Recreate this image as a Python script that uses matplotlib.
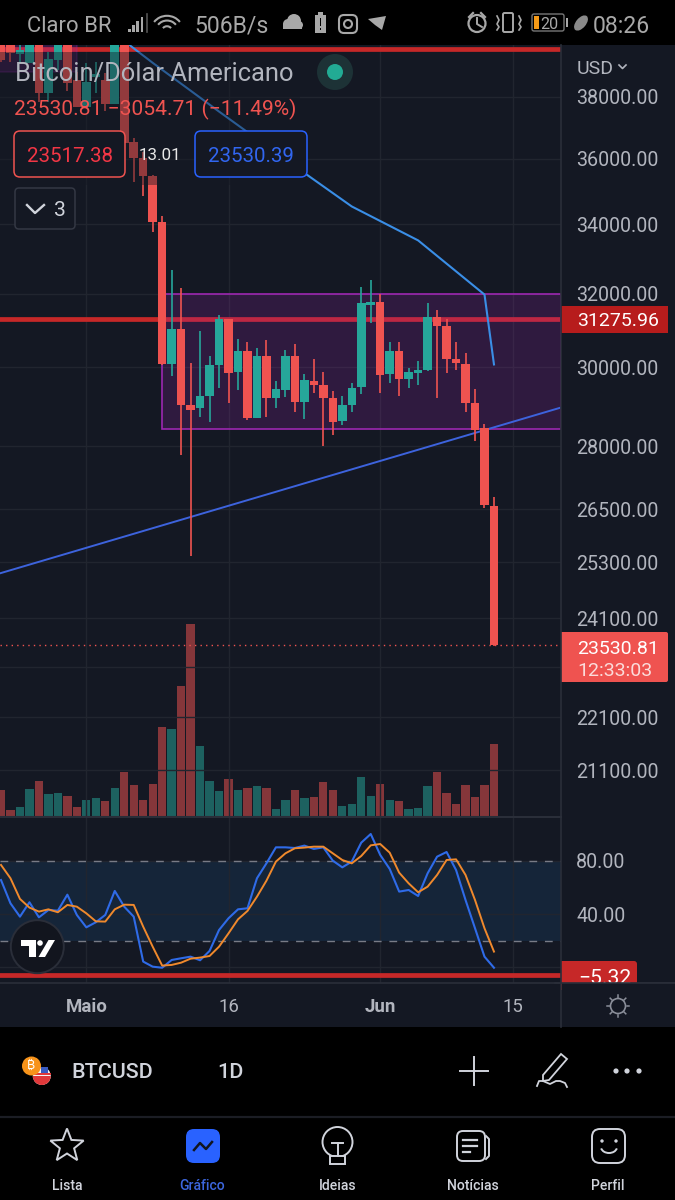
"""
plot.py - BTCUSD daily chart, phone screenshot of a trading app.
Price pane is on a log scale, with volume and stoch RSI below it.
"""
import numpy as np
import matplotlib
matplotlib.use("Agg")
import matplotlib.pyplot as plt
from matplotlib.patches import Rectangle, FancyBboxPatch, Circle, Ellipse, Arc, Polygon, Wedge
from matplotlib.ticker import FuncFormatter, NullLocator, NullFormatter

# --------------------- DATA ---------------------
# daily candles, first one is 22 April, last one is 13 June
opens = [39940, 39800, 39450, 39140, 39940, 38132, 39243, 39940, 38565, 37680,
         38666, 38565, 37770, 39940, 36546, 36040, 35478, 34052, 30078, 31035,
         29023, 28946, 29249, 30052, 31300, 29870, 30447, 28695, 30288, 29198,
         29405, 30288, 29097, 29636, 29533, 29198, 28620, 29023, 29482, 31694,
         31777, 29818, 30447, 29688, 29844, 29921, 31362, 31117, 30209, 30078,
         29072, 28446, 26574]
closes = [39243, 39490, 39591, 39870, 38132, 39278, 39940, 38465, 37680, 38498,
          38766, 37770, 39940, 36515, 36040, 35478, 34052, 30078, 31035, 29023,
          28896, 29249, 30052, 31307, 29844, 30447, 28695, 30288, 29198, 29430,
          30288, 29097, 29662, 29533, 29198, 28595, 29023, 29456, 31749, 31777,
          29792, 30447, 29688, 29870, 29921, 31362, 31117, 30209, 30104, 29072,
          28396, 26597, 23530.81]
highs = [40120, 39940, 39940, 40100, 40100, 39522, 40100, 40100, 38838, 39137,
         39170, 38800, 40100, 40100, 36674, 36228, 35509, 34232, 32680, 32170,
         30104, 30981, 30288, 31417, 31307, 30766, 30686, 30526, 30739, 29636,
         30473, 30632, 29818, 30209, 29870, 29379, 29249, 29585, 32198, 32393,
         31998, 30686, 30686, 29973, 30157, 31749, 31555, 31307, 30686, 30368,
         29430, 28545, 26780]
lows = [39170, 39170, 39140, 39140, 37834, 37834, 38900, 38199, 37680, 37680,
        38132, 37550, 37770, 36483, 35292, 34834, 33757, 30052, 29766, 27783,
        25440, 28720, 28595, 29456, 29072, 29405, 28645, 28695, 28720, 28946,
        29224, 28846, 28670, 29328, 28002, 28272, 28520, 28846, 29303, 31198,
        29328, 29585, 29249, 29456, 29533, 29895, 29198, 29844, 29921, 28846,
        28125, 26528, 23517.38]
# volume, arbitrary units, colour follows the candle colours of the volume study
volume = [25.7, 5.7, 9, 27, 34.7, 21.7, 22.7, 19.7, 9.3, 15.7,
          18, 14.7, 28, 44, 31.3, 15.7, 32, 89.3, 86.7, 130,
          192.3, 70.3, 34.7, 25.3, 37.3, 26, 27.7, 30, 28.3, 6.7,
          16.3, 26, 18.3, 19.3, 33.7, 25.7, 9.7, 11.7, 38.7, 19.7,
          31.7, 15.7, 14.7, 6.7, 7.7, 30, 44, 23.3, 12.3, 30.7,
          19.3, 31.3, 72.3]
volume_up = [0, 0, 1, 1, 0, 1, 1, 0, 0, 1, 1, 0, 1, 0, 0, 0, 0, 0, 1, 0,
             0, 1, 1, 1, 0, 1, 0, 1, 0, 1, 1, 0, 1, 0, 0, 0, 1, 1, 1, 1,
             0, 1, 0, 1, 1, 1, 0, 0, 0, 0, 0, 0, 0]
# stochastic RSI
stoch_k = [65.5, 48, 38, 48.8, 37.5, 43, 42.5, 54.5, 39.3, 30,
           33.8, 39.3, 57.3, 45.5, 38, 4.3, 0.5, -0.3, 5.5, 6.8,
           8, 5.3, 12.3, 28, 36.8, 43.5, 44.3, 66.8, 78, 90,
           90, 89.5, 91.3, 88.8, 90, 80, 75, 79.3, 93.5, 100,
           84.3, 73.8, 56.8, 58, 53.5, 70.5, 83, 86.5, 73, 50.5,
           29.3, 8, -0.3]
stoch_d = [76.8, 66.8, 51.3, 44.8, 41.8, 43.5, 41.3, 46.8, 45.5, 40.5,
           34.5, 34.3, 43.5, 47, 46.8, 30.5, 15.5, 1.3, 1.8, 3.5,
           6.5, 7.3, 8.5, 15.5, 25.5, 36, 42.3, 53, 65, 79.3,
           85.5, 89.3, 89.8, 90.5, 90.5, 85.5, 80.5, 78, 83.5, 91.5,
           92.5, 86, 71, 63, 56.3, 60.5, 69.3, 80.5, 81, 69.3,
           50.5, 29.3, 11.8]
# weekly moving average (sampled once a week) and the drawn trend line
ma_days = [9, 16, 23, 30, 37, 44, 51, 52]
ma_values = [40925, 39150, 37517, 35977, 34531, 33522, 31972, 30078]
trend_prices = [25060, 28967]
# drawn levels and rectangles
level_main = 31305
level_top = 39640
level_last = 23530.81
level_stoch = -5.7
box_low, box_high, box_start = 28440, 31990, 17
old_box_low, old_box_end = 38838, 8
# axis ticks (the ones under the tags have a grid line but no visible label)
price_ticks = [38000, 36000, 34000, 32000, 30000, 28000, 26500, 25300, 24100, 23100, 22100, 21100]
stoch_ticks = [80, 40, 0]
hidden_ticks = [23100, 0]
date_ticks = [9, 24, 40, 54]
date_labels = ["Maio", "16", "Jun", "15"]

# --------------------- COLOURS ---------------------
BG = "#141823"
GRID = "#21252f"
BORDER = "#2a2e39"
RED = "#ef5350"
TEAL = "#26a69a"
DARK_RED = "#c62828"
LABEL = "#b2b5be"
PURPLE = "#9c27b0"
BLUE = "#2962ff"
UI_GREY = "#d1d4dc"
STATUS = "#a8a8a8"

W, H = 675, 1200
plt.rcParams["font.family"] = ["Roboto", "DejaVu Sans"]


def px_rect(x0, y0, x1, y1):
    """Axes rectangle from screen pixels (y going down)."""
    return [x0 / W, 1 - y1 / H, (x1 - x0) / W, (y1 - y0) / H]


def round_box(ax, x0, y0, x1, y1, r, fc, ec="none", lw=1.2, zorder=5):
    ax.add_patch(FancyBboxPatch((x0 + r, y0 + r), x1 - x0 - 2 * r, y1 - y0 - 2 * r,
                                boxstyle=f"round,pad={r},rounding_size={r}",
                                fc=fc, ec=ec, lw=lw, zorder=zorder))


def scale_label(value, pos):
    if value in hidden_ticks:
        return ""
    return f"{value:.2f}"


fig = plt.figure(figsize=(W / 100, H / 100), dpi=100, facecolor=BG)
days = np.arange(len(closes))
xlim = (-0.105, 59.07)

# --------------------- volume pane (same area as the price pane) ---------------------
ax_vol = fig.add_axes(px_rect(0, 45, 561, 816), facecolor=BG, zorder=1)
vol_colors = [TEAL if up else RED for up in volume_up]
ax_vol.bar(days, volume, width=0.88, color=vol_colors, alpha=0.52, linewidth=0)
ax_vol.set_xlim(*xlim)
ax_vol.set_ylim(0, 771)
ax_vol.axis("off")

# --------------------- price pane ---------------------
ax = fig.add_axes(px_rect(0, 45, 561, 816), zorder=2)
ax.patch.set_alpha(0)
ax.set_yscale("log")
ax.set_xlim(*xlim)
ax.set_ylim(20271, 39764)
ax.set_yticks(price_ticks)
ax.yaxis.set_major_formatter(FuncFormatter(scale_label))
ax.yaxis.set_minor_locator(NullLocator())
ax.yaxis.set_minor_formatter(NullFormatter())
ax.yaxis.tick_right()
ax.tick_params(axis="y", length=0, pad=11, labelsize=14.1, labelcolor=LABEL)
ax.set_xticks(date_ticks)
ax.tick_params(axis="x", length=0, labelbottom=False)
ax.grid(True, color=GRID, lw=1.0, zorder=0)
ax.set_axisbelow(True)
for s in ax.spines.values():
    s.set_visible(False)

ax.axhline(level_main, color=DARK_RED, lw=3.4, zorder=1)
ax.axhline(level_top, color=DARK_RED, lw=3.4, zorder=1)
ax.add_patch(Rectangle((box_start, box_low), xlim[1] - box_start, box_high - box_low,
                       fc=PURPLE, ec="none", alpha=0.2, zorder=1.5))
ax.add_patch(Rectangle((box_start, box_low), xlim[1] - box_start, box_high - box_low,
                       fc="none", ec=PURPLE, lw=1.2, zorder=1.6))
ax.add_patch(Rectangle((-2, old_box_low), 2 + old_box_end, 50000 - old_box_low,
                       fc=PURPLE, alpha=0.25, ec=PURPLE, lw=1.2, zorder=1.5))
ax.plot(ma_days, ma_values, color="#3a8ee6", lw=1.5, zorder=2)
ax.plot(xlim, trend_prices, color="#3d63dd", lw=1.4, zorder=2)
ax.axhline(level_last, color=RED, lw=1.0, ls=(0, (1, 3)), zorder=2)

# candles
opens_a, closes_a = np.array(opens, float), np.array(closes, float)
candle_colors = [TEAL if c >= o else RED for o, c in zip(opens_a, closes_a)]
ax.vlines(days, lows, highs, colors=candle_colors, lw=1.2, zorder=3)
ax.bar(days, np.abs(closes_a - opens_a), bottom=np.minimum(opens_a, closes_a), width=0.9,
       color=candle_colors, linewidth=0, zorder=3.5)

# --------------------- stoch RSI pane ---------------------
ax_st = fig.add_axes(px_rect(0, 818, 561, 983), facecolor=BG, zorder=2)
ax_st.set_xlim(*xlim)
ax_st.set_ylim(-11.75, 112)
ax_st.axhspan(20, 80, color="#2196f3", alpha=0.11, lw=0, zorder=0.5)
ax_st.set_yticks(stoch_ticks)
ax_st.yaxis.set_major_formatter(FuncFormatter(scale_label))
ax_st.yaxis.tick_right()
ax_st.tick_params(axis="y", length=0, pad=11, labelsize=14.1, labelcolor=LABEL)
ax_st.set_xticks(date_ticks)
ax_st.set_xticklabels(date_labels)
ax_st.tick_params(axis="x", length=0, pad=10.5, labelsize=13.4, labelcolor=LABEL)
for lab, name in zip(ax_st.get_xticklabels(), date_labels):
    if name in ("Maio", "Jun"):
        lab.set_fontweight("bold")
ax_st.grid(True, color=GRID, lw=1.0, zorder=0)
ax_st.set_axisbelow(True)
for s in ax_st.spines.values():
    s.set_visible(False)
for lv in (80, 20):
    ax_st.axhline(lv, color="#787b86", lw=1.0, ls=(0, (5.6, 5.6)), zorder=1)
ax_st.axhline(level_stoch, color=DARK_RED, lw=3.4, zorder=1.5)
ax_st.plot(days, stoch_k, color="#2f6be8", lw=1.5, zorder=2)
ax_st.plot(days, stoch_d, color="#f0892c", lw=1.4, zorder=2.5)

# --------------------- screen overlay: status bar, legend, tags, bottom nav ---------------------
ui = fig.add_axes([0, 0, 1, 1], zorder=10)
ui.patch.set_alpha(0)
ui.set_xlim(0, W)
ui.set_ylim(H, 0)
ui.axis("off")

# legend area dims the candles behind it
ui.add_patch(Rectangle((0, 52), 300, 133, fc=BG, alpha=0.42, lw=0, zorder=1))

# black bands
ui.add_patch(Rectangle((0, 0), W, 45, fc="black", lw=0, zorder=2))
ui.add_patch(Rectangle((0, 1027), W, 173, fc="black", lw=0, zorder=2))
# pane borders
ui.plot([561, 561], [45, 1027], color=BORDER, lw=1.2, zorder=6)
ui.plot([0, 561], [817, 817], color=BORDER, lw=1.5, zorder=3)
ui.plot([0, W], [983, 983], color=BORDER, lw=1.2, zorder=3)
ui.plot([0, W], [1116.5, 1116.5], color="#1b1d24", lw=1.6, zorder=3)


def ui_text(x, y, s, size_px, color, ha="left", weight="normal", zorder=8):
    ui.text(x, y, s, fontsize=size_px * 0.72, color=color, ha=ha, va="center_baseline",
            fontweight=weight, zorder=zorder)


# status bar, left
ui_text(27, 24, "Claro BR", 22, STATUS)
for i, h in enumerate([3, 7, 11, 15]):
    ui.add_patch(Rectangle((128 + i * 4.2, 32 - h), 2.8, h, fc=STATUS, lw=0, zorder=5))
ui.plot([147, 147], [14, 32], color="#555555", lw=1.2, zorder=5)
for r in (5, 11, 16):
    ui.add_patch(Arc((167, 31), 2 * r, 2 * r * 0.95, theta1=215, theta2=325, ec=STATUS, lw=1.5, zorder=5))
ui_text(194, 24, "506B/s", 23, STATUS)
# cloud
for cx, cy, r in [(288, 24, 5), (294, 21, 7), (299, 25, 4)]:
    ui.add_patch(Circle((cx, cy), r, fc=STATUS, lw=0, zorder=5))
ui.add_patch(Rectangle((283, 24), 19, 4.5, fc=STATUS, lw=0, zorder=5))
# battery alert
ui.add_patch(Rectangle((315, 15), 11, 18, fc=STATUS, lw=0, zorder=5))
ui.add_patch(Rectangle((318, 12), 5, 3, fc=STATUS, lw=0, zorder=5))
ui.add_patch(Rectangle((319.6, 18), 1.8, 8, fc="black", lw=0, zorder=6))
ui.add_patch(Rectangle((319.6, 28), 1.8, 2, fc="black", lw=0, zorder=6))
# instagram
round_box(ui, 339, 15, 357, 33, 5, "none", STATUS, 1.5)
ui.add_patch(Circle((348, 24), 4, fc="none", ec=STATUS, lw=1.5, zorder=5))
# small app icon
ui.add_patch(Polygon([(368, 19), (386, 16), (382, 30), (375, 25)], fc=STATUS, lw=0, zorder=5))

# status bar, right
ui.add_patch(Circle((477, 23.5), 8.5, fc="none", ec=STATUS, lw=1.6, zorder=5))
ui.plot([477, 477, 482], [18, 24, 27], color=STATUS, lw=1.4, zorder=5)
ui.plot([469, 473], [17, 13], color=STATUS, lw=1.6, zorder=5)
ui.plot([485, 481], [17, 13], color=STATUS, lw=1.6, zorder=5)
round_box(ui, 503, 13, 513, 32, 1.5, "none", STATUS, 1.4)
for vx in (497, 519):
    ui.plot([vx, vx + 2, vx, vx + 2, vx], [16, 20, 24, 27, 30], color=STATUS, lw=1.2, zorder=5)
round_box(ui, 532, 14, 564, 31, 2, "none", "#777777", 1.0)
ui.add_patch(Rectangle((534, 16), 5, 13, fc="#f59a17", lw=0, zorder=6))
ui_text(540, 23, "20", 16, STATUS)
ui.add_patch(Rectangle((566, 18), 1.8, 9, fc=STATUS, lw=0, zorder=5))
ui.add_patch(Ellipse((581, 23), 10, 18, angle=40, fc="#8a8a8a", lw=0, zorder=5))
ui_text(593, 24, "08:26", 23, STATUS)

# legend
ui_text(15, 72, "Bitcoin/Dólar Americano", 25.5, LABEL)
ui.add_patch(Circle((335, 72), 18, fc="#1d3236", lw=0, zorder=5))
ui.add_patch(Circle((335, 72), 8, fc="#22ab94", lw=0, zorder=6))
ui_text(14, 107, "23530.81 −3054.71 (−11.49%)", 21, RED)
round_box(ui, 14, 131, 125, 177, 6, BG, RED, 1.1)
ui_text(69.5, 154, "23517.38", 20.5, "#f23645", ha="center")
ui_text(139, 154, "13.01", 17, "#e8e8e8")
round_box(ui, 195, 131, 307, 177, 6, BG, BLUE, 1.1)
ui_text(251, 154, "23530.39", 20.5, "#3166f0", ha="center")
round_box(ui, 15, 188, 75, 229, 4, BG, "#343844", 1.1)
ui.plot([27, 35, 44], [205, 213, 205], color=UI_GREY, lw=1.7, zorder=7)
ui_text(54, 209, "3", 21, UI_GREY)

# right scale tags
ui_text(577, 67, "USD", 19.5, LABEL)
ui.plot([619, 622.5, 626], [65, 68.5, 65], color=LABEL, lw=1.2, zorder=5)
ui.add_patch(Rectangle((561, 306), 107, 27, fc="#b71c1c", lw=0, zorder=5))
ui_text(577, 319.5, "31275.96", 19.5, "white")
round_box(ui, 561, 632, 668, 682, 2, RED)
ui.add_patch(Rectangle((561, 632), 6, 50, fc=RED, lw=0, zorder=5))
ui_text(577, 647, "23530.81", 19.5, "white")
ui_text(577, 669, "12:33:03", 19.5, "#fbdcdb")
round_box(ui, 561, 961, 637, 990, 3, DARK_RED)
ui.add_patch(Rectangle((561, 961), 6, 29, fc=DARK_RED, lw=0, zorder=5))
# the bottom of this tag and of its value is cut off by the time axis
ui.text(578, 984.5, "−5.32", fontsize=15.1, color="white", ha="left", va="baseline", zorder=5.2)
ui.add_patch(Rectangle((562, 983), 113, 10, fc=BG, lw=0, zorder=5.5))
ui.plot([555, W], [983, 983], color=BORDER, lw=1.2, zorder=6)

# sun icon (lower right corner)
ui.add_patch(Circle((618, 1006), 7.5, fc="none", ec="#8a8e99", lw=1.2, zorder=5))
for a in np.arange(8) * np.pi / 4:
    ui.plot([618 + 8.5 * np.cos(a), 618 + 11 * np.cos(a)], [1006 + 8.5 * np.sin(a), 1006 + 11 * np.sin(a)],
            color="#8a8e99", lw=1.1, zorder=5)

# watermark logo
ui.add_patch(Circle((37.3, 946.7), 26.5, fc="#12151e", ec="#2a2e39", lw=1.4, zorder=5))
ui.add_patch(Polygon([(20.5, 940), (36, 940), (36, 957), (29, 957), (29, 946), (20.5, 946)], fc="white", lw=0, zorder=6))
ui.add_patch(Circle((40, 943), 2.8, fc="white", lw=0, zorder=6))
ui.add_patch(Polygon([(48.5, 940), (55, 940), (45, 957), (38.5, 957)], fc="white", lw=0, zorder=6))

# --------------------- bottom toolbar ---------------------
ui.add_patch(Circle((41.8, 1076), 9, fc="#f4f4f4", lw=0, zorder=5))
ui.add_patch(Wedge((41.8, 1076), 9, 0, 180, fc="#e0383a", lw=0, zorder=5.2))
ui.add_patch(Rectangle((33, 1073), 17.6, 2.4, fc="#e0383a", lw=0, zorder=5.3))
ui.add_patch(Rectangle((41, 1067), 7, 6, fc="#3a5bc0", lw=0, zorder=5.3))
ui.add_patch(Circle((31.5, 1066), 9.5, fc="#f7931a", lw=0, zorder=6))
ui.text(31.5, 1066, "₿", fontsize=9, color="white", ha="center", va="center", zorder=7,
        family=["Inter", "Noto Sans", "Open Sans", "Lato", "DejaVu Sans"])
ui_text(71, 1071, "BTCUSD", 21.5, UI_GREY, weight="medium")
ui_text(217, 1071, "1D", 21.5, UI_GREY, weight="medium")
ui.plot([460, 488], [1071, 1071], color=UI_GREY, lw=1.4, zorder=5)
ui.plot([474, 474], [1057, 1085], color=UI_GREY, lw=1.4, zorder=5)
# pencil
ui.add_patch(Polygon([(543, 1075), (561, 1054), (567, 1059), (549, 1080), (543, 1081)], fc="black", ec=UI_GREY, lw=1.3, zorder=5))
ui.plot([537, 539, 543, 550, 556, 560, 565, 567], [1086, 1081, 1081, 1084, 1081, 1081, 1083, 1087],
        color=UI_GREY, lw=1.3, zorder=5)
for dx in (616, 627, 639):
    ui.add_patch(Circle((dx, 1071), 2.6, fc=UI_GREY, lw=0, zorder=5))

# --------------------- bottom nav ---------------------
ang = np.pi / 2 + np.arange(10) * np.pi / 5
rad = np.where(np.arange(10) % 2 == 0, 17.5, 7.5)
ui.add_patch(Polygon(np.c_[67 + rad * np.cos(ang), 1146 - rad * np.sin(ang)], fc="none", ec=UI_GREY, lw=1.4, zorder=5))
round_box(ui, 186, 1129, 220, 1163, 8, BLUE)
ui.plot([194, 200, 206, 212], [1150, 1143, 1149, 1142], color="#11151f", lw=1.8, zorder=6)
# bulb
ui.add_patch(Circle((337.5, 1142), 15, fc="none", ec=UI_GREY, lw=1.4, zorder=5))
ui.add_patch(Rectangle((330, 1156), 15, 8, fc="black", ec=UI_GREY, lw=1.4, zorder=6))
ui.plot([332, 343], [1143, 1143], color=UI_GREY, lw=1.4, zorder=7)
ui.plot([337.5, 337.5], [1143, 1156], color=UI_GREY, lw=1.4, zorder=7)
# news
round_box(ui, 457, 1131, 485, 1161, 6, "none", UI_GREY, 1.4)
ui.plot([486, 489, 489, 486], [1136, 1139, 1156, 1159], color=UI_GREY, lw=1.4, zorder=5)
for ny, nx in [(1140, 477), (1146, 477), (1152, 470)]:
    ui.plot([463, nx], [ny, ny], color=UI_GREY, lw=1.6, zorder=5)
# profile
round_box(ui, 592, 1129, 625, 1163, 8, "none", UI_GREY, 1.4)
ui.add_patch(Circle((602, 1141), 1.7, fc=UI_GREY, lw=0, zorder=5))
ui.add_patch(Circle((616, 1141), 1.7, fc=UI_GREY, lw=0, zorder=5))
ui.add_patch(Arc((609, 1147), 16, 12, theta1=10, theta2=170, ec=UI_GREY, lw=1.4, zorder=5))

for nav_x, nav_label, nav_color in [(67, "Lista", UI_GREY), (202, "Gráfico", "#3c66dd"), (337.5, "Ideias", UI_GREY),
                                    (473, "Notícias", UI_GREY), (608, "Perfil", UI_GREY)]:
    ui_text(nav_x, 1185, nav_label, 14, nav_color, ha="center", weight="medium")

fig.savefig("out.png", dpi=100, facecolor=BG)
